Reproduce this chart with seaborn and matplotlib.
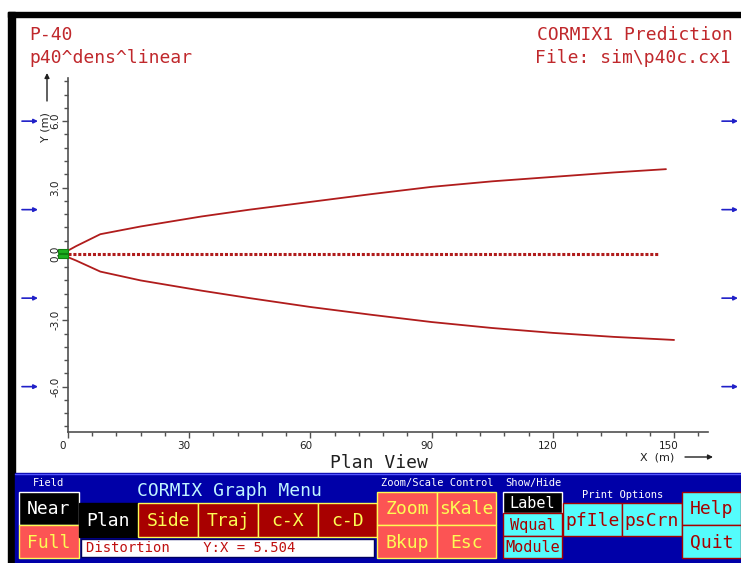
import matplotlib
matplotlib.use("Agg")
import matplotlib.pyplot as plt
from matplotlib.patches import Rectangle
from matplotlib.transforms import ScaledTranslation
import seaborn as sns
import numpy as np

# plume boundaries in plan view (metres)
x_upper = [0, 2, 8, 18, 33, 45, 60, 75, 90, 105, 120, 135, 148]
y_upper = [0.15, 0.35, 0.89, 1.24, 1.69, 2.0, 2.35, 2.7, 3.03, 3.28, 3.48, 3.68, 3.83]
x_lower = [0, 2, 8, 18, 33, 45, 60, 75, 90, 105, 120, 135, 150]
y_lower = [-0.15, -0.3, -0.8, -1.2, -1.66, -2.0, -2.4, -2.75, -3.08, -3.35, -3.57, -3.75, -3.89]
# plume centerline
x_center = [0, 146]
y_center = [0, 0]
# ambient current arrows (Y positions)
current_y = [6, 2, -2, -6]
x_ticks = [0, 30, 60, 90, 120, 150]
y_ticks = [-6.0, -3.0, 0.0, 3.0, 6.0]

RED = "#c0282c"
LINE = "#b01c1c"
BLUE = "#0000a8"
DRED = "#a80000"
LRED = "#fc5454"
YEL = "#fcfc54"
CYAN = "#54fcfc"
ARROW = "#2020c8"
MONO = "DejaVu Sans Mono"

sns.set_style("ticks")
plt.rcParams["font.family"] = ["DejaVu Sans"]

fig = plt.figure(figsize=(7.41, 5.63), dpi=100)

# background axes in pixel coordinates for the screen frame and menu
bg = fig.add_axes([0, 0, 1, 1])
bg.set_xlim(0, 741)
bg.set_ylim(563, 0)
bg.axis("off")

bg.add_patch(Rectangle((8, 12), 733, 4.5, color="black"))
bg.add_patch(Rectangle((8, 12), 7, 551, color="black"))

bg.text(29, 40, "P-40", color=RED, fontsize=13, family=MONO)
bg.text(29, 63, "p40^dens^linear", color=RED, fontsize=13, family=MONO)
bg.text(733, 40, "CORMIX1 Prediction", color=RED, fontsize=13, family=MONO, ha="right")
bg.text(731, 63, "File: sim\\p40c.cx1", color=RED, fontsize=13, family=MONO, ha="right")
bg.text(330, 468, "Plan View", color="#202020", fontsize=13, family=MONO)

# axis titles with arrows
bg.text(45, 127, "Y (m)", rotation=90, fontsize=8, color="#202020", ha="center", va="center")
bg.annotate("", xy=(47, 73), xytext=(47, 101),
            arrowprops=dict(arrowstyle="-|>", color="#202020", lw=1, mutation_scale=7,
                            shrinkA=0, shrinkB=0))
bg.text(657, 458, "X  (m)", fontsize=8, color="#202020", ha="center", va="center")
bg.annotate("", xy=(713, 457), xytext=(685, 457),
            arrowprops=dict(arrowstyle="-|>", color="#202020", lw=1, mutation_scale=7,
                            shrinkA=0, shrinkB=0))

# menu panel
bg.add_patch(Rectangle((15, 473), 726, 90, color=BLUE))
bg.plot([15, 741], [473.5, 473.5], color="#5454fc", lw=1)


def button(x0, y0, x1, y1, face, edge, text, tcolor, size):
    bg.add_patch(Rectangle((x0, y0), x1 - x0, y1 - y0, facecolor=face,
                           edgecolor=edge, lw=1))
    bg.text((x0 + x1) / 2, (y0 + y1) / 2 + 1, text, color=tcolor, fontsize=size,
            family=MONO, ha="center", va="center")


bg.text(48, 483, "Field", color="white", fontsize=7.5, family=MONO, ha="center", va="center")
bg.text(229, 491, "CORMIX Graph Menu", color="#c0f4ff", fontsize=13, family=MONO,
        ha="center", va="center")
bg.text(437, 483, "Zoom/Scale Control", color="white", fontsize=7.5, family=MONO,
        ha="center", va="center")
bg.text(533, 483, "Show/Hide", color="white", fontsize=7.5, family=MONO,
        ha="center", va="center")
bg.text(623, 495, "Print Options", color="white", fontsize=7.5, family=MONO,
        ha="center", va="center")

button(19, 492, 79, 525, "black", "white", "Near", "white", 13)
button(19, 525, 79, 558, LRED, YEL, "Full", YEL, 13)
button(79, 503, 138, 537, "black", "black", "Plan", "white", 13)
button(138, 503, 198, 537, DRED, YEL, "Side", YEL, 13)
button(198, 503, 258, 537, DRED, YEL, "Traj", YEL, 13)
button(258, 503, 318, 537, DRED, YEL, "c-X", YEL, 13)
button(318, 503, 377, 537, DRED, YEL, "c-D", YEL, 13)
bg.add_patch(Rectangle((81, 539), 293, 18, facecolor="white", edgecolor="#000060", lw=1))
bg.text(86, 548.5, "Distortion    Y:X = 5.504", color="#c01010", fontsize=10,
        family=MONO, va="center")
button(377, 492, 437, 525, LRED, YEL, "Zoom", YEL, 13)
button(437, 492, 496, 525, LRED, YEL, "sKale", YEL, 13)
button(377, 525, 437, 558, LRED, YEL, "Bkup", YEL, 13)
button(437, 525, 496, 558, LRED, YEL, "Esc", YEL, 13)
button(503, 492, 562, 513, "black", "white", "Label", "white", 11)
button(503, 513, 562, 536, CYAN, DRED, "Wqual", DRED, 11)
button(503, 536, 562, 558, CYAN, DRED, "Module", DRED, 11)
button(563, 503, 622, 536, CYAN, DRED, "pfIle", DRED, 13)
button(622, 503, 682, 536, CYAN, DRED, "psCrn", DRED, 13)
button(682, 492, 741, 525, CYAN, DRED, "Help", DRED, 13)
button(682, 525, 741, 558, CYAN, DRED, "Quit", DRED, 13)

# plan view plot
ax = fig.add_axes([68 / 741, 131 / 563, 640 / 741, 354 / 563])
ax.set_facecolor("none")

sns.lineplot(x=x_upper, y=y_upper, ax=ax, color=LINE, lw=1.3, sort=False)
sns.lineplot(x=x_lower, y=y_lower, ax=ax, color=LINE, lw=1.3, sort=False)
sns.lineplot(x=x_center, y=y_center, ax=ax, color=LINE, lw=2.2, sort=False,
             linestyle=(0, (1.0, 0.6)))

# source marker
ax.add_patch(Rectangle((-2.5, 0.02), 2.5, 0.18, facecolor="#20b020",
                       edgecolor="#108010", lw=0.8, clip_on=False, zorder=5))
ax.add_patch(Rectangle((-2.5, -0.2), 2.5, 0.18, facecolor="#20b020",
                       edgecolor="#108010", lw=0.8, clip_on=False, zorder=5))

# ambient current arrows on both sides
for yv in current_y:
    for xa, xb in [(22, 38), (722, 738)]:
        ax.annotate("", xy=(xb, yv), xytext=(xa, yv),
                    xycoords=("figure pixels", "data"),
                    textcoords=("figure pixels", "data"),
                    arrowprops=dict(arrowstyle="-|>", color=ARROW, lw=1.2,
                                    mutation_scale=6, shrinkA=0, shrinkB=0),
                    annotation_clip=False)

ax.set_xlim(0, 158.4)
ax.set_ylim(-8.05, 7.95)
sns.despine(ax=ax)
for side in ["left", "bottom"]:
    ax.spines[side].set_color("#505050")
    ax.spines[side].set_linewidth(1.2)

ax.set_xticks(x_ticks)
ax.set_xticks(np.arange(0, 159, 6), minor=True)
ax.set_yticks(y_ticks)
ax.set_yticklabels([f"{v:.1f}" for v in y_ticks], rotation=90, va="center")
ax.set_yticks(np.arange(-7.8, 7.9, 0.6), minor=True)
ax.tick_params(which="both", direction="out", color="#505050", width=1,
               labelsize=7.5, labelcolor="#202020")
ax.tick_params(which="major", length=4)
ax.tick_params(which="minor", length=3)
ax.tick_params(axis="x", pad=2.5)
ax.tick_params(axis="y", pad=1.5)

shift = ScaledTranslation(-5 / 100, 0, fig.dpi_scale_trans)
for lbl in ax.get_xticklabels():
    lbl.set_transform(lbl.get_transform() + shift)

fig.savefig("out.png", dpi=100, facecolor="white")
